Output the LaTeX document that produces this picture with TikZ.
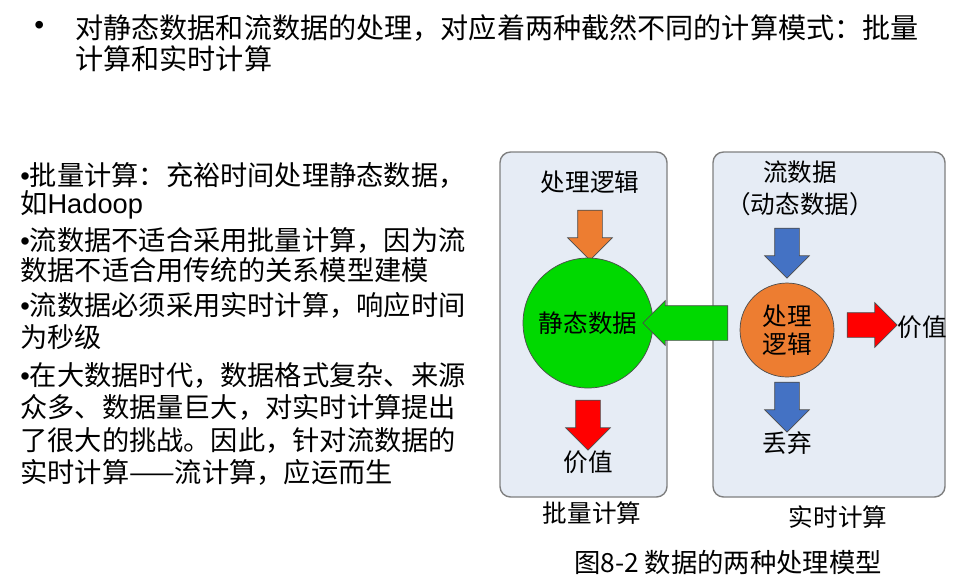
\documentclass[tikz,border=0pt]{standalone}
\usepackage{fontspec}
\setmainfont{Liberation Sans}
\newfontfamily\cjk{Noto Sans CJK SC}
\usetikzlibrary{shapes.arrows,positioning}
\definecolor{panelfill}{HTML}{E6ECF5}
\definecolor{panelline}{HTML}{7F7F7F}
\definecolor{arroworange}{HTML}{ED7D31}
\definecolor{arrowblue}{HTML}{4472C4}
\tikzset{
    panel/.style={
        draw=panelline,
        fill=panelfill,
        rounded corners=6pt,
        thick,
    },
    fatarrow/.style={
        single arrow,
        draw=black!70,
        minimum height=10mm,
        single arrow head extend=2mm,
        inner sep=2.4mm,
        minimum width=0pt,
    },
    lbl/.style={
        font=\cjk\fontsize{14}{16}\selectfont,
        align=center,
        inner sep=1pt,
    },
    body/.style={
        font=\cjk\fontsize{16}{20}\selectfont,
        anchor=west,
        inner sep=0pt,
    }
}
\newcommand{\bul}{{\fontspec{Liberation Sans}•}}
\begin{document}
\begin{tikzpicture}[x=0.02cm,y=-0.02cm]
    \useasboundingbox (0,0) rectangle (966,583);
    % heading
    \node [body] (dot) at (34,28) {\bul{}};
    \node [body] (h1) at (75,28) {对静态数据和流数据的处理，对应着两种截然不同的计算模式：批量};
    \node [body] (h2) at (75,59) {计算和实时计算};
    % left text
    \foreach \y/\t in {175/\bul{}批量计算：充裕时间处理静态数据，,
                       205/如{\fontspec{Liberation Sans}Hadoop},
                       240/\bul{}流数据不适合采用批量计算，因为流,
                       270/数据不适合用传统的关系模型建模,
                       305/\bul{}流数据必须采用实时计算，响应时间,
                       337/为秒级,
                       375/\bul{}在大数据时代，数据格式复杂、来源,
                       407/众多、数据量巨大，对实时计算提出,
                       440/了很大的挑战。因此，针对流数据的,
                       472/实时计算——流计算，应运而生}
        \node [body,font=\cjk\fontsize{15.5}{20}\selectfont] at (20,\y) {\t};
    % panels
    \draw [panel] (500,152) rectangle (667,497);
    \draw [panel] (713,152) rectangle (945,497);
    % batch side
    \node [lbl] (logic1) at (590,182) {处理逻辑};
    \node [fatarrow,fill=arroworange,shape border rotate=270] (a1) at (590,229) {};
    \node [circle,draw=black!70,fill=green!85!black,minimum size=2.6cm,lbl] (static) at (588,323) {静态数据};
    \node [fatarrow,fill=red,shape border rotate=270] (a2) at (588,419) {};
    \node [lbl] (value1) at (588,462) {价值};
    % stream side
    \node [lbl] (stream) at (800,172) {流数据};
    \node [lbl] (dyn) at (800,204) {（动态数据）};
    \node [fatarrow,fill=arrowblue,shape border rotate=270] (a3) at (787,247) {};
    \node [circle,draw=black!70,fill=arroworange,minimum size=1.88cm,lbl] (logic2) at (787,330) {处理\\逻辑};
    \node [fatarrow,fill=green!85!black,shape border rotate=180,minimum height=17mm,inner sep=3.4mm,single arrow head extend=1mm] (a4) at (694,323) {};
    \node [fatarrow,fill=red] (a5) at (866,325) {};
    \node [lbl] (value2) at (922,327) {价值};
    \node [fatarrow,fill=arrowblue,shape border rotate=270] (a6) at (787,401) {};
    \node [lbl] (drop) at (787,443) {丢弃};
    % captions
    \node [lbl,font=\cjk\fontsize{14}{16}\selectfont] (cap1) at (592,513) {批量计算};
    \node [lbl,font=\cjk\fontsize{14}{16}\selectfont] (cap2) at (838,517) {实时计算};
    \node [lbl,font=\cjk\fontsize{15}{18}\selectfont] (fig) at (728,562) {图8-2 数据的两种处理模型};
\end{tikzpicture}
\end{document}
